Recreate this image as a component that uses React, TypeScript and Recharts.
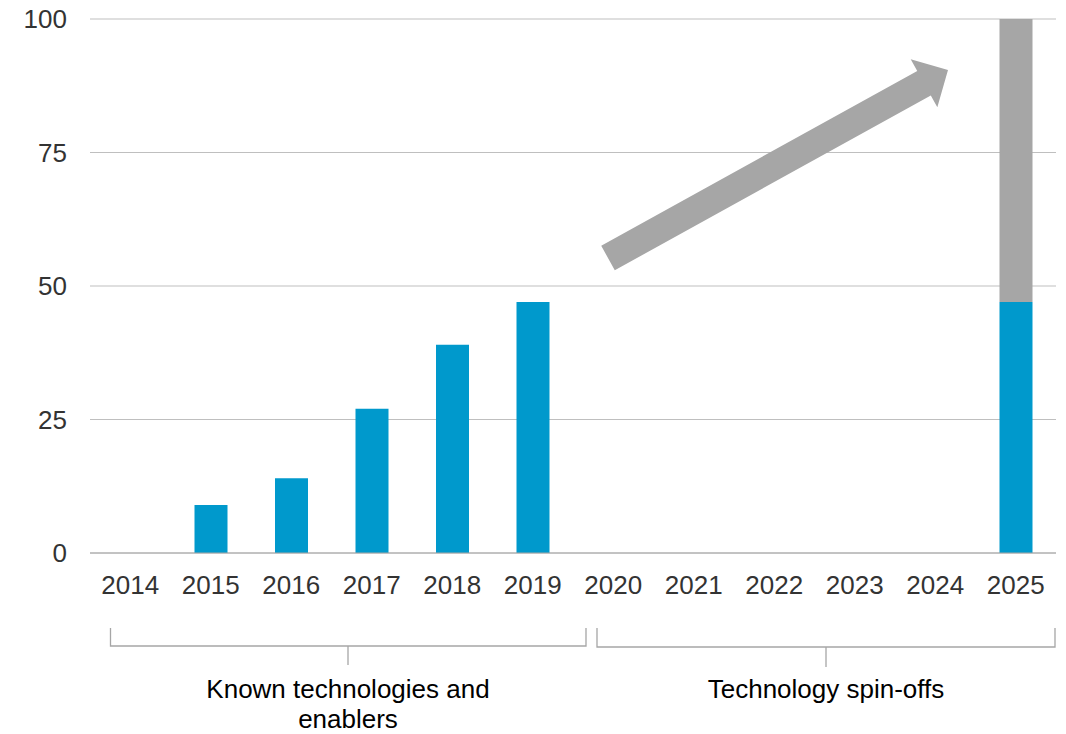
import React from "react";
import { BarChart, Bar, XAxis, YAxis, CartesianGrid } from "recharts";

const years = ["2014", "2015", "2016", "2017", "2018", "2019", "2020", "2021", "2022", "2023", "2024", "2025"];
const known = [0, 9, 14, 27, 39, 47, 0, 0, 0, 0, 0, 47];
const spinOffs = [0, 0, 0, 0, 0, 0, 0, 0, 0, 0, 0, 53];
const yTicks = [0, 25, 50, 75, 100];

const data = years.map((year, i) => ({ year, known: known[i], spinOffs: spinOffs[i] }));

const FONT = "'Liberation Sans', Arial, sans-serif";
const BLUE = "#0099cc";
const GREY = "#a6a6a6";
const LINE = "#a6a6a6";

// arrow polygon: tail -> tip, shaft and head widths in px
function arrowPoints(tx: number, ty: number, hx: number, hy: number, shaft: number, head: number, headLen: number) {
  const dx = hx - tx;
  const dy = hy - ty;
  const len = Math.sqrt(dx * dx + dy * dy);
  const ux = dx / len;
  const uy = dy / len;
  const nx = -uy;
  const ny = ux;
  const bx = hx - ux * headLen;
  const by = hy - uy * headLen;
  const pts = [
    [tx + nx * shaft, ty + ny * shaft],
    [bx + nx * shaft, by + ny * shaft],
    [bx + nx * head, by + ny * head],
    [hx, hy],
    [bx - nx * head, by - ny * head],
    [bx - nx * shaft, by - ny * shaft],
    [tx - nx * shaft, ty - ny * shaft],
  ];
  return pts.map((p) => p.join(",")).join(" ");
}

export default function App() {
  return (
    <div style={{ position: "absolute", left: 0, top: 0, width: 1066, height: 734, background: "#fff", fontFamily: FONT }}>
      <BarChart width={1066} height={734} data={data} margin={{ top: 19, right: 10, left: 0, bottom: 151 }}>
        <CartesianGrid vertical={false} stroke="#bfbfbf" />
        <XAxis
          dataKey="year"
          axisLine={{ stroke: LINE }}
          tickLine={false}
          tickMargin={17}
          tick={{ fill: "#333", fontSize: 26, fontFamily: FONT }}
          interval={0}
        />
        <YAxis
          width={90}
          domain={[0, 100]}
          ticks={yTicks}
          axisLine={false}
          tickLine={false}
          tickMargin={17}
          tick={{ fill: "#333", fontSize: 26, fontFamily: FONT }}
        />
        <Bar dataKey="known" stackId="a" fill={BLUE} barSize={33} isAnimationActive={false} />
        <Bar dataKey="spinOffs" stackId="a" fill={GREY} barSize={33} isAnimationActive={false} />
      </BarChart>
      <svg width={1066} height={734} style={{ position: "absolute", left: 0, top: 0, pointerEvents: "none" }}>
        <polygon points={arrowPoints(608, 258, 948, 70, 14, 27.5, 27.4)} fill={GREY} />
        <g stroke={LINE} strokeWidth={1.3} fill="none">
          <polyline points="110.5,628 110.5,646 586,646 586,628" />
          <line x1={348} y1={646} x2={348} y2={665} />
          <polyline points="597,628 597,647 1055,647 1055,628" />
          <line x1={826} y1={647} x2={826} y2={667} />
        </g>
        <g fontFamily={FONT} fontSize={26} fill="#000" textAnchor="middle">
          <text x={348} y={698}>Known technologies and</text>
          <text x={348} y={728}>enablers</text>
          <text x={826} y={698}>Technology spin-offs</text>
        </g>
      </svg>
    </div>
  );
}
